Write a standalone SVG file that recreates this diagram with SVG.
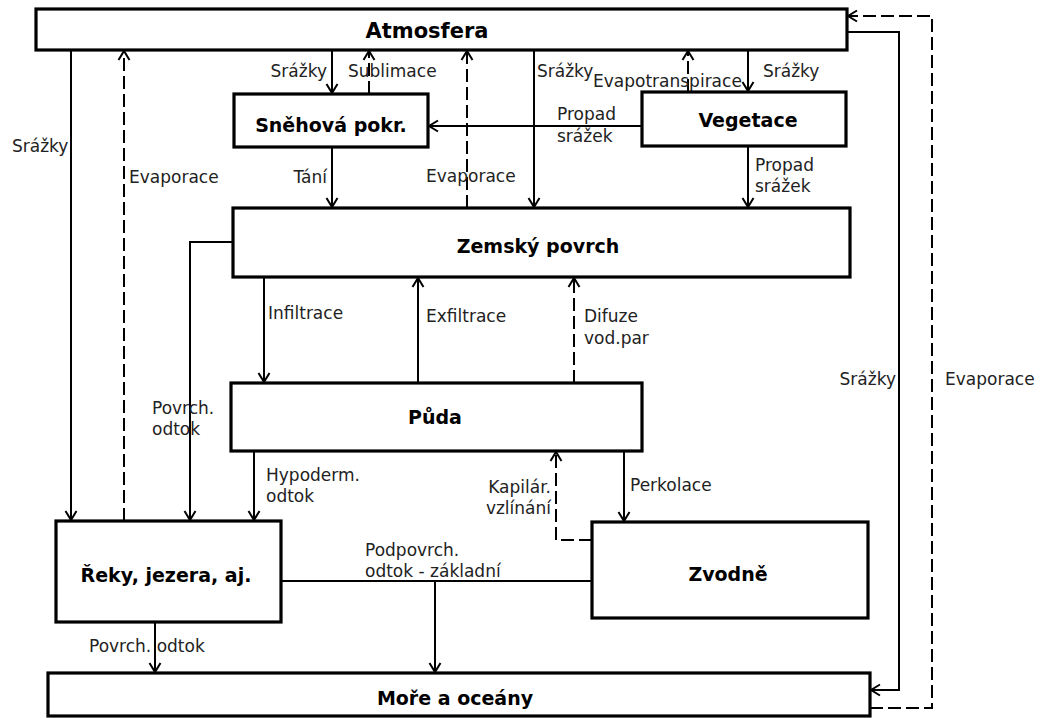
<svg xmlns="http://www.w3.org/2000/svg" width="1044" height="718" viewBox="0 0 1044 718">
<style>
.box{fill:#fff;stroke:#000;stroke-width:3.2}
.nt{font-family:"DejaVu Sans",sans-serif;font-weight:bold;font-size:19px;fill:#000;text-anchor:middle}
.c{fill:none;stroke:#000;stroke-width:2}
.a{marker-end:url(#arr)}
.d{stroke-dasharray:13,5}
.lb{font-family:"DejaVu Sans",sans-serif;font-size:17px;fill:#222}
.r{text-anchor:end}
</style>
<defs>
<marker id="arr" markerUnits="userSpaceOnUse" markerWidth="14" markerHeight="14" refX="11" refY="7" orient="auto">
<path d="M2,1.5 L11,7 L2,12.5" fill="none" stroke="#000" stroke-width="2"/>
</marker>
</defs>
<rect width="1044" height="718" fill="#fff"/>
<g id="connectors">
<path class="c a" d="M71,50 V520"/>
<path class="c a d" d="M124,521 V51"/>
<path class="c a" d="M233,242 H190 V520"/>
<path class="c a" d="M254,451 V520"/>
<path class="c a" d="M332,50 V93"/>
<path class="c a d" d="M369,94 V51"/>
<path class="c a" d="M332,147 V207"/>
<path class="c a d" d="M467,208 V51"/>
<path class="c a" d="M534,50 V207"/>
<path class="c a d" d="M688,92 V51"/>
<path class="c a" d="M748,50 V91"/>
<path class="c a" d="M641,126 H429"/>
<path class="c a" d="M748,146 V207"/>
<path class="c a" d="M264,277 V382"/>
<path class="c a" d="M418,383 V278"/>
<path class="c a d" d="M574,383 V278"/>
<path class="c a" d="M624,451 V521"/>
<path class="c a d" d="M592,540 H556 V452"/>
<path class="c" d="M281,581 H592"/>
<path class="c a" d="M435,581 V672"/>
<path class="c a" d="M155,622 V672"/>
<path class="c a" d="M847,32 H899 V690 H871"/>
<path class="c a d" d="M870,708 H932 V16 H848"/>
</g>
<g id="labels">
<text class="lb" x="12" y="152">Srážky</text>
<text class="lb" x="129" y="183">Evaporace</text>
<text class="lb r" x="327" y="77">Srážky</text>
<text class="lb" x="348" y="77">Sublimace</text>
<text class="lb r" x="327" y="183">Tání</text>
<text class="lb" x="426" y="182">Evaporace</text>
<text class="lb" x="537" y="77">Srážky</text>
<text class="lb" x="593" y="87">Evapotranspirace</text>
<text class="lb" x="763" y="77">Srážky</text>
<text class="lb" x="557" y="120">Propad</text>
<text class="lb" x="557" y="142">srážek</text>
<text class="lb" x="755" y="171">Propad</text>
<text class="lb" x="755" y="192">srážek</text>
<text class="lb" x="268" y="319">Infiltrace</text>
<text class="lb" x="426" y="322">Exfiltrace</text>
<text class="lb" x="584" y="322">Difuze</text>
<text class="lb" x="584" y="344">vod.par</text>
<text class="lb" x="152" y="414">Povrch.</text>
<text class="lb" x="152" y="435">odtok</text>
<text class="lb" x="266" y="481">Hypoderm.</text>
<text class="lb" x="266" y="502">odtok</text>
<text class="lb r" x="551" y="493">Kapilár.</text>
<text class="lb r" x="551" y="514">vzlínání</text>
<text class="lb" x="630" y="491">Perkolace</text>
<text class="lb" x="365" y="556">Podpovrch.</text>
<text class="lb" x="365" y="577">odtok - základní</text>
<text class="lb" x="89" y="652">Povrch. odtok</text>
<text class="lb r" x="896" y="385">Srážky</text>
<text class="lb" x="945" y="385">Evaporace</text>
</g>
<g id="atmosfera"><rect class="box" x="36" y="9" width="811" height="41"/><text class="nt" x="427" y="38" style="font-size:21px">Atmosfera</text></g>
<g id="snehova"><rect class="box" x="234" y="94" width="194" height="53"/><text class="nt" x="331" y="132">Sněhová pokr.</text></g>
<g id="vegetace"><rect class="box" x="642" y="92" width="204" height="54"/><text class="nt" x="748" y="127">Vegetace</text></g>
<g id="zemsky"><rect class="box" x="233" y="208" width="617" height="69"/><text class="nt" x="538" y="253">Zemský povrch</text></g>
<g id="puda"><rect class="box" x="231" y="383" width="411" height="68"/><text class="nt" x="435" y="424">Půda</text></g>
<g id="reky"><rect class="box" x="56" y="521" width="225" height="101"/><text class="nt" x="166" y="582">Řeky, jezera, aj.</text></g>
<g id="zvodne"><rect class="box" x="592" y="522" width="276" height="96"/><text class="nt" x="728" y="581">Zvodně</text></g>
<g id="more"><rect class="box" x="48" y="673" width="822" height="43"/><text class="nt" x="455" y="705">Moře a oceány</text></g>
</svg>
